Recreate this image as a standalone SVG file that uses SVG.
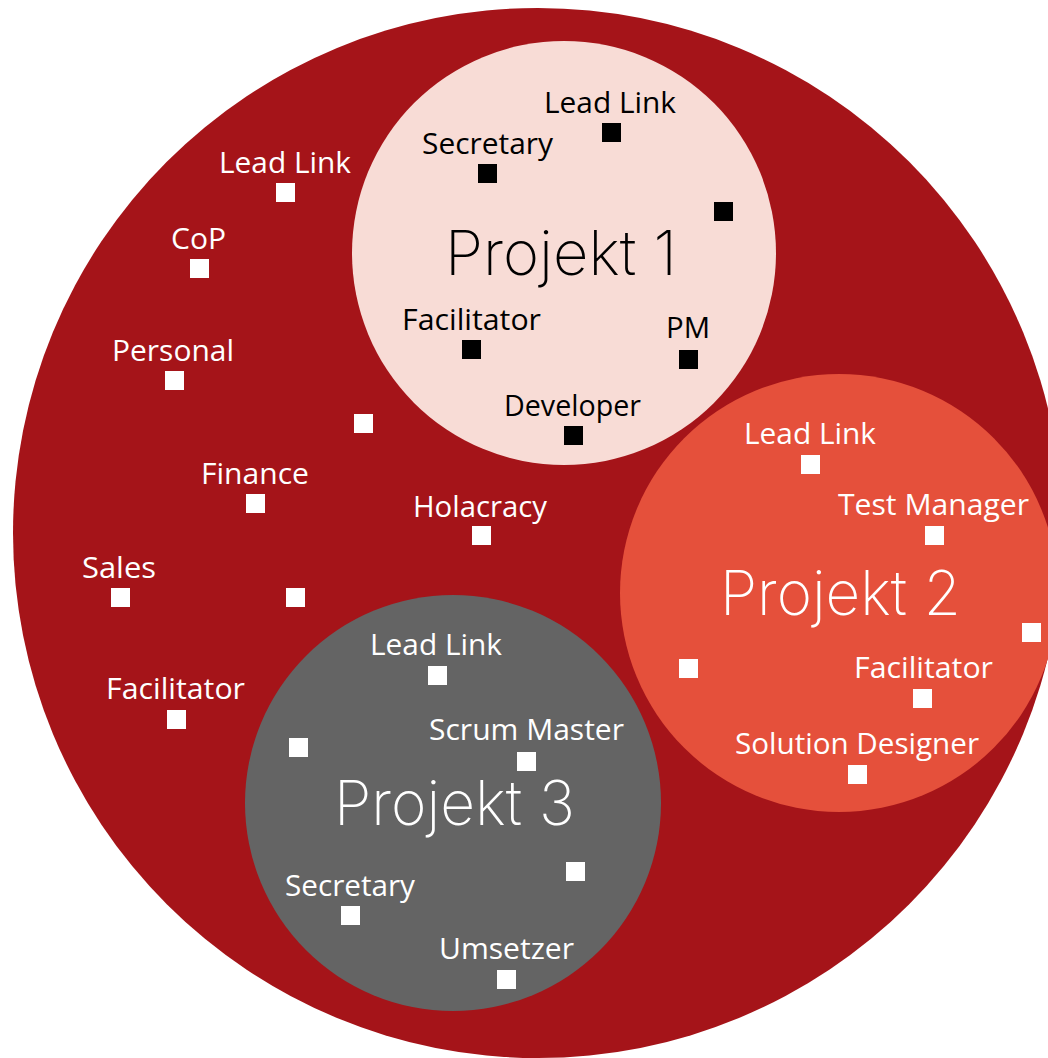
<svg xmlns="http://www.w3.org/2000/svg" width="1048" height="1058" viewBox="0 0 1048 1058">
<style>
.lbl{font-family:"Open Sans","Liberation Sans",sans-serif;font-size:30px;}
.w{fill:#ffffff;}
.b{fill:#000000;}
.ttl{font-family:Inter,"Open Sans",sans-serif;font-size:62px;font-weight:150;}
</style>
<defs>
<rect id="sq" width="19" height="19"/>
</defs>
<rect width="1048" height="1058" fill="#ffffff"/>
<g id="organisation">
<circle cx="538" cy="533" r="525" fill="#a51419"/>
</g>
<g id="projekt1">
<circle cx="564" cy="253" r="212" fill="#f8dcd6"/>
<text class="ttl b" x="445" y="275" textLength="232" lengthAdjust="spacingAndGlyphs">Projekt 1</text>
</g>
<g id="projekt2">
<circle cx="839" cy="593" r="219" fill="#e5503b"/>
<text class="ttl w" x="720" y="615" textLength="241" lengthAdjust="spacingAndGlyphs">Projekt 2</text>
</g>
<g id="projekt3">
<circle cx="453" cy="803" r="208" fill="#646464"/>
<text class="ttl w" x="334" y="825" textLength="241" lengthAdjust="spacingAndGlyphs">Projekt 3</text>
</g>

<g id="org-leadlink" class="w"><text class="lbl" x="219" y="173" textLength="132" lengthAdjust="spacingAndGlyphs">Lead Link</text><use href="#sq" x="276" y="183"/></g>
<g id="org-cop" class="w"><text class="lbl" x="171" y="249" textLength="55" lengthAdjust="spacingAndGlyphs">CoP</text><use href="#sq" x="190" y="259"/></g>
<g id="org-personal" class="w"><text class="lbl" x="112" y="361" textLength="122" lengthAdjust="spacingAndGlyphs">Personal</text><use href="#sq" x="165" y="371"/></g>
<g id="org-role1" class="w"><use href="#sq" x="354" y="414"/></g>
<g id="org-finance" class="w"><text class="lbl" x="201" y="484" textLength="108" lengthAdjust="spacingAndGlyphs">Finance</text><use href="#sq" x="246" y="494"/></g>
<g id="org-holacracy" class="w"><text class="lbl" x="413" y="517" textLength="134" lengthAdjust="spacingAndGlyphs">Holacracy</text><use href="#sq" x="472" y="526"/></g>
<g id="org-sales" class="w"><text class="lbl" x="82" y="578" textLength="74" lengthAdjust="spacingAndGlyphs">Sales</text><use href="#sq" x="111" y="588"/></g>
<g id="org-role2" class="w"><use href="#sq" x="286" y="588"/></g>
<g id="org-facilitator" class="w"><text class="lbl" x="106" y="699" textLength="139" lengthAdjust="spacingAndGlyphs">Facilitator</text><use href="#sq" x="167" y="710"/></g>

<g id="p1-leadlink" class="b"><text class="lbl" x="544" y="113" textLength="132" lengthAdjust="spacingAndGlyphs">Lead Link</text><use href="#sq" x="602" y="123"/></g>
<g id="p1-secretary" class="b"><text class="lbl" x="422" y="154" textLength="131" lengthAdjust="spacingAndGlyphs">Secretary</text><use href="#sq" x="478" y="164"/></g>
<g id="p1-role" class="b"><use href="#sq" x="714" y="202"/></g>
<g id="p1-facilitator" class="b"><text class="lbl" x="402" y="330" textLength="139" lengthAdjust="spacingAndGlyphs">Facilitator</text><use href="#sq" x="462" y="340"/></g>
<g id="p1-pm" class="b"><text class="lbl" x="666" y="338" textLength="44" lengthAdjust="spacingAndGlyphs">PM</text><use href="#sq" x="679" y="350"/></g>
<g id="p1-developer" class="b"><text class="lbl" x="504" y="416" textLength="137" lengthAdjust="spacingAndGlyphs">Developer</text><use href="#sq" x="564" y="426"/></g>

<g id="p2-leadlink" class="w"><text class="lbl" x="744" y="444" textLength="132" lengthAdjust="spacingAndGlyphs">Lead Link</text><use href="#sq" x="801" y="455"/></g>
<g id="p2-testmanager" class="w"><text class="lbl" x="838" y="515" textLength="191" lengthAdjust="spacingAndGlyphs">Test Manager</text><use href="#sq" x="925" y="526"/></g>
<g id="p2-role1" class="w"><use href="#sq" x="1022" y="623"/></g>
<g id="p2-role2" class="w"><use href="#sq" x="679" y="659"/></g>
<g id="p2-facilitator" class="w"><text class="lbl" x="854" y="678" textLength="139" lengthAdjust="spacingAndGlyphs">Facilitator</text><use href="#sq" x="913" y="689"/></g>
<g id="p2-solutiondesigner" class="w"><text class="lbl" x="735" y="754" textLength="244" lengthAdjust="spacingAndGlyphs">Solution Designer</text><use href="#sq" x="848" y="765"/></g>

<g id="p3-leadlink" class="w"><text class="lbl" x="370" y="655" textLength="132" lengthAdjust="spacingAndGlyphs">Lead Link</text><use href="#sq" x="428" y="666"/></g>
<g id="p3-role1" class="w"><use href="#sq" x="289" y="738"/></g>
<g id="p3-scrummaster" class="w"><text class="lbl" x="429" y="740" textLength="195" lengthAdjust="spacingAndGlyphs">Scrum Master</text><use href="#sq" x="517" y="752"/></g>
<g id="p3-role2" class="w"><use href="#sq" x="566" y="862"/></g>
<g id="p3-secretary" class="w"><text class="lbl" x="285" y="896" textLength="130" lengthAdjust="spacingAndGlyphs">Secretary</text><use href="#sq" x="341" y="906"/></g>
<g id="p3-umsetzer" class="w"><text class="lbl" x="439" y="959" textLength="135" lengthAdjust="spacingAndGlyphs">Umsetzer</text><use href="#sq" x="497" y="970"/></g>
</svg>
